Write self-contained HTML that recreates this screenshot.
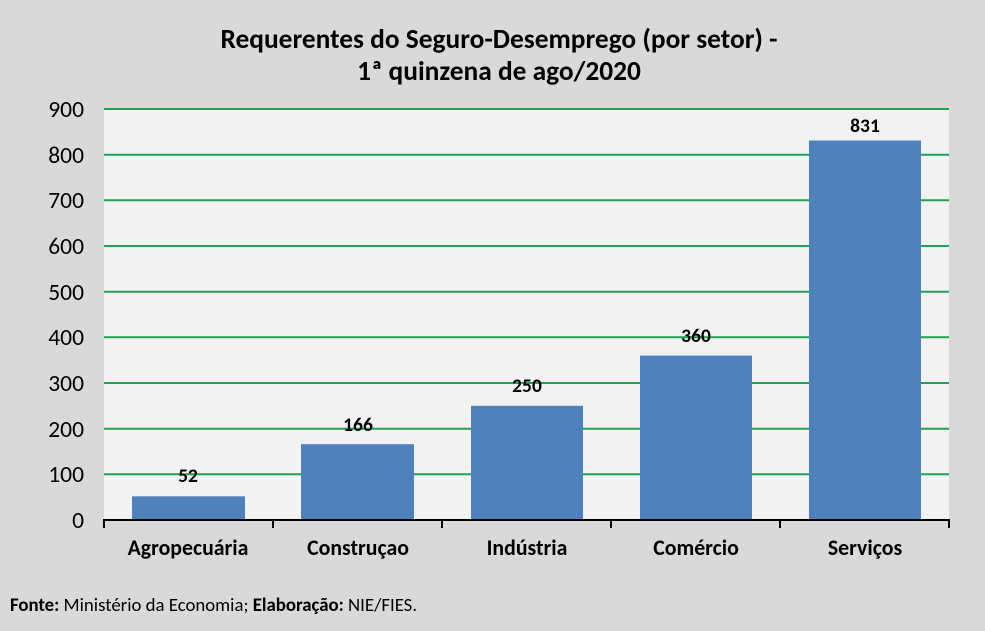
<!DOCTYPE html>
<html><head><meta charset="utf-8"><style>
body{margin:0;background:#d9d9d9;}
svg{display:block;font-family:Carlito,"Liberation Sans",sans-serif;}
</style></head><body>
<svg width="985" height="631" viewBox="0 0 985 631">
<rect width="985" height="631" fill="#d9d9d9"/>
<rect x="104" y="109" width="845" height="411" fill="#f2f2f2"/>
<g stroke="#21a152" stroke-width="2">
<line x1="104" x2="949" y1="109" y2="109"/>
<line x1="104" x2="949" y1="154.7" y2="154.7"/>
<line x1="104" x2="949" y1="200.3" y2="200.3"/>
<line x1="104" x2="949" y1="246" y2="246"/>
<line x1="104" x2="949" y1="291.7" y2="291.7"/>
<line x1="104" x2="949" y1="337.3" y2="337.3"/>
<line x1="104" x2="949" y1="383" y2="383"/>
<line x1="104" x2="949" y1="428.7" y2="428.7"/>
<line x1="104" x2="949" y1="474.3" y2="474.3"/>
</g>
<g fill="#4f81bd">
<rect x="132" y="496.3" width="113" height="23.7"/>
<rect x="301" y="444.2" width="113" height="75.8"/>
<rect x="471" y="405.8" width="112" height="114.2"/>
<rect x="640" y="355.6" width="112" height="164.4"/>
<rect x="809" y="140.5" width="112" height="379.5"/>
</g>
<g stroke="#000" stroke-width="2">
<line x1="103" x2="950" y1="520" y2="520"/>
<line x1="104" x2="104" y1="520" y2="528"/>
<line x1="273" x2="273" y1="520" y2="528"/>
<line x1="442" x2="442" y1="520" y2="528"/>
<line x1="611" x2="611" y1="520" y2="528"/>
<line x1="780" x2="780" y1="520" y2="528"/>
<line x1="949" x2="949" y1="520" y2="528"/>
</g>
<g font-size="23.5" fill="#000" text-anchor="end">
<text x="84" y="117">900</text>
<text x="84" y="163">800</text>
<text x="84" y="208">700</text>
<text x="84" y="254">600</text>
<text x="84" y="300">500</text>
<text x="84" y="345">400</text>
<text x="84" y="391">300</text>
<text x="84" y="437">200</text>
<text x="84" y="482">100</text>
<text x="84" y="528">0</text>
</g>
<g font-size="19.5" font-weight="bold" text-anchor="middle">
<text x="188" y="482">52</text>
<text x="358" y="431">166</text>
<text x="527" y="392">250</text>
<text x="696" y="342">360</text>
<text x="865" y="132">831</text>
</g>
<g font-size="21.8" font-weight="bold" text-anchor="middle">
<text x="188" y="555">Agropecuária</text>
<text x="358" y="555">Construçao</text>
<text x="527" y="555">Indústria</text>
<text x="696" y="555">Comércio</text>
<text x="865" y="555">Serviços</text>
</g>
<g font-size="27.4" font-weight="bold" text-anchor="middle">
<text x="499" y="48">Requerentes do Seguro-Desemprego (por setor) -</text>
<text x="499" y="80">1ª quinzena de ago/2020</text>
</g>
<text x="10" y="611" font-size="18.8"><tspan font-weight="bold">Fonte:</tspan> Ministério da Economia; <tspan font-weight="bold">Elaboração:</tspan> NIE/FIES.</text>
</svg>
</body></html>
